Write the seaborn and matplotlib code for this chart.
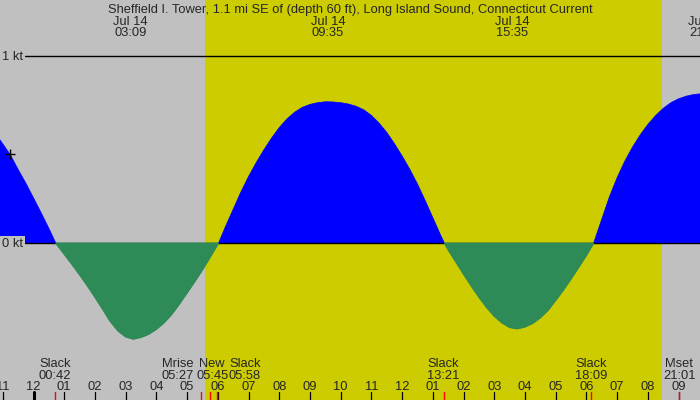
import numpy as np
import pandas as pd
import matplotlib
matplotlib.use("Agg")
import matplotlib.pyplot as plt
import seaborn as sns

# ---------------- data ----------------
title = "Sheffield I. Tower, 1.1 mi SE of (depth 60 ft), Long Island Sound, Connecticut Current"

# hours after midnight Jul 14, current speed in knots (+ flood, - ebb)
hour = [-1.5, -1.25, -1.0, -0.75, -0.5, -0.25, 0.0, 0.25, 0.5, 0.73,
        1.0, 1.25, 1.5, 1.75, 2.0, 2.25, 2.5, 2.75, 3.0, 3.25, 3.5, 3.75,
        4.0, 4.25, 4.5, 4.75, 5.0, 5.25, 5.5, 5.75, 6.02,
        6.25, 6.5, 6.75, 7.0, 7.25, 7.5, 7.75, 8.0, 8.25, 8.5, 8.75, 9.0,
        9.25, 9.5, 9.75, 10.0, 10.25, 10.5, 10.75, 11.0, 11.25, 11.5, 11.75,
        12.0, 12.25, 12.5, 12.75, 13.0, 13.25, 13.38,
        13.5, 13.75, 14.0, 14.25, 14.5, 14.75, 15.0, 15.25, 15.5, 15.75,
        16.0, 16.25, 16.5, 16.75, 17.0, 17.25, 17.5, 17.75, 18.0, 18.23,
        18.5, 18.75, 19.0, 19.25, 19.5, 19.75, 20.0, 20.25, 20.5, 20.75,
        21.0, 21.25, 21.5, 21.75, 22.0]
kt = [0.63, 0.59, 0.532, 0.472, 0.395, 0.322, 0.243, 0.163, 0.080, 0.0,
      -0.058, -0.112, -0.168, -0.226, -0.288, -0.352, -0.418, -0.468, -0.500, -0.512, -0.503, -0.486,
      -0.460, -0.425, -0.380, -0.325, -0.265, -0.205, -0.142, -0.075, 0.0,
      0.09, 0.182, 0.274, 0.357, 0.432, 0.500, 0.563, 0.619, 0.665, 0.701, 0.727, 0.743,
      0.752, 0.757, 0.756, 0.752, 0.745, 0.733, 0.714, 0.684, 0.643, 0.593, 0.533,
      0.467, 0.396, 0.317, 0.229, 0.137, 0.045, 0.0,
      -0.035, -0.100, -0.165, -0.228, -0.288, -0.343, -0.390, -0.425, -0.450, -0.457,
      -0.447, -0.428, -0.398, -0.358, -0.305, -0.250, -0.190, -0.128, -0.064, 0.0,
      0.13, 0.25, 0.352, 0.44, 0.515, 0.58, 0.636, 0.683, 0.722, 0.752,
      0.773, 0.787, 0.796, 0.80, 0.802]

# marker on the curve
plus_hour, plus_kt = -0.765, 0.476

# maximum current events (top labels)
max_hours = [3.15, 9.583, 15.583, 21.87]
max_dates = ["Jul 14", "Jul 14", "Jul 14", "Jul 14"]
max_times = ["03:09", "09:35", "15:35", "21:52"]

# bottom events
ev_hours = [0.70, 5.45, 5.75, 5.967, 13.35, 18.15, 21.017]
ev_names = ["Slack", "Mrise", "New", "Slack", "Slack", "Slack", "Mset"]
ev_times = ["00:42", "05:27", "05:45", "05:58", "13:21", "18:09", "21:01"]
ev_label_shift_px = [0, -23, 2, 28, 0, 0, 0]   # label layout shifts

# daylight span
day_start, day_end = 5.583, 20.46

# axis levels
level_vals = [1, 0]
level_labels = ["1 kt", "0 kt"]

# hour ticks
tick_hours = list(range(-1, 22))
tick_labels = ["%02d" % (((h % 12) or 12)) for h in tick_hours]

# ---------------- style ----------------
GRAY = "#c0c0c0"
YELLOW = "#cccc00"
BLUE = "#0000ff"
GREEN = "#2e8b57"

sns.set_style("white")
plt.rcParams["font.family"] = ["Liberation Sans", "DejaVu Sans"]
FS = 9.3

W, H = 700, 400
fig = plt.figure(figsize=(7, 4), dpi=100, facecolor=GRAY)
ax = fig.add_axes([0, 0, 1, 1])
ax.set_facecolor(GRAY)

px_per_hr = 30.72
mid_px = 33.5
zero_px = 243.3
px_per_kt = 187.0
ax.set_xlim(-mid_px / px_per_hr, (W - mid_px) / px_per_hr)
ax.set_ylim((zero_px - H) / px_per_kt, zero_px / px_per_kt)
ax.axis("off")


def fy(py):
    """pixel row from top -> axes fraction"""
    return 1 - py / H


ax.axvspan(day_start, day_end, color=YELLOW, zorder=0, lw=0)

h = np.array(hour)
v = np.array(kt)
ax.fill_between(h, v, 0, where=v >= 0, interpolate=True, color=BLUE, lw=0, zorder=2)
for val in level_vals:
    ax.axhline(val, xmin=25 / W, xmax=1, color="black", lw=1.0, zorder=2.5)
ax.fill_between(h, v, 0, where=v <= 0, interpolate=True, facecolor=GREEN,
                edgecolor=GREEN, lw=1.0, zorder=3)

# curve edges through seaborn, one line per lobe
rows = []
lobe = 0
for i, (hi, vi) in enumerate(zip(hour, kt)):
    rows.append((hi, vi, lobe))
    if vi == 0 and i > 0:
        lobe += 1
        rows.append((hi, vi, lobe))
df = pd.DataFrame(rows, columns=["hour", "kt", "lobe"])
df["dir"] = df.groupby("lobe")["kt"].transform(lambda s: "flood" if s.max() > 0 else "ebb")
sns.lineplot(data=df, x="hour", y="kt", units="lobe", hue="dir",
             palette={"flood": BLUE, "ebb": GREEN}, estimator=None,
             lw=0.5, legend=False, ax=ax, zorder=3.5, sort=False)

ax.plot([plus_hour], [plus_kt], marker="+", ms=6.5, mew=1, color="black", zorder=5)

# level labels (with background like the reference)
for val, lab in zip(level_vals, level_labels):
    ax.annotate(lab, (2 / W, val), xycoords=ax.get_yaxis_transform(),
                xytext=(0, -3.3 * 0.72), textcoords="offset points",
                ha="left", va="baseline", fontsize=FS, zorder=6,
                bbox=dict(boxstyle="square,pad=0.12", facecolor=GRAY, edgecolor="none"))

# title and max labels
ax.text(0.5, fy(12.5), title, transform=ax.transAxes, ha="center", va="baseline", fontsize=FS)
xt = ax.get_xaxis_transform()
for mh, md, mt in zip(max_hours, max_dates, max_times):
    ax.text(mh, fy(25), md, transform=xt, ha="center", va="baseline", fontsize=FS)
    ax.text(mh, fy(36.3), mt, transform=xt, ha="center", va="baseline", fontsize=FS)

# hour ticks
for th, tl in zip(tick_hours, tick_labels):
    lw = 2.2 if th % 24 == 0 else 0.9
    ax.plot([th, th], [0, fy(392)], transform=xt, color="black", lw=lw, zorder=7)
    ax.text(th, fy(390.3), tl, transform=xt, ha="center", va="baseline", fontsize=FS)

# event ticks and labels
for eh, en, et, sh in zip(ev_hours, ev_names, ev_times, ev_label_shift_px):
    ax.plot([eh, eh], [0, fy(392)], transform=xt, color="red", lw=1, zorder=8)
    ax.annotate(en, (eh, fy(367)), xycoords=xt, xytext=(sh * 0.72, 0),
                textcoords="offset points", ha="center", va="baseline", fontsize=FS)
    ax.annotate(et, (eh, fy(378.6)), xycoords=xt, xytext=(sh * 0.72, 0),
                textcoords="offset points", ha="center", va="baseline", fontsize=FS)

fig.savefig("out.png", dpi=100, facecolor=GRAY)
